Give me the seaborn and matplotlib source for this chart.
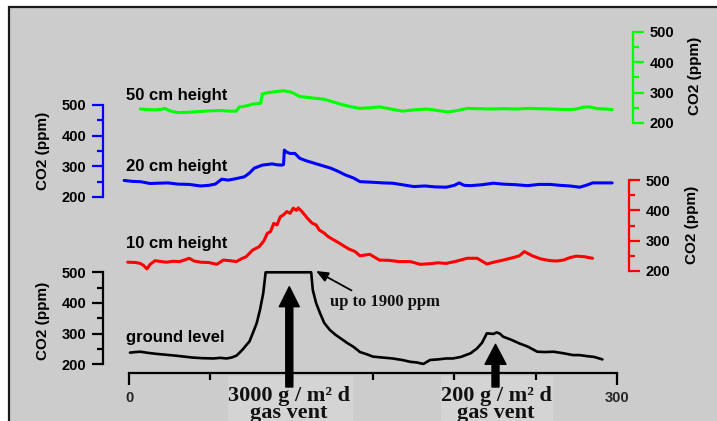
import matplotlib
matplotlib.use("Agg")
import matplotlib.pyplot as plt
from matplotlib.patches import Rectangle
from matplotlib.ticker import FixedLocator, NullFormatter
import pandas as pd
import seaborn as sns

# ---------------------------------------------------------------- data
# distance along the transect and CO2 concentration (ppm) at four heights
x_50cm = [7, 12, 16, 20, 22, 25, 30, 36, 44, 50, 56, 62, 66, 67.5, 72, 76, 81, 82,
          86, 90, 95, 100, 105, 110, 115, 120, 125, 130, 136, 142, 148, 154, 160,
          168, 175, 183, 190, 196, 202, 208, 215, 222, 230, 238, 245, 252, 259,
          265, 271, 275, 279, 283, 288, 293, 297]
co2_50cm = [246, 244, 243, 245, 248, 240, 234, 235, 238, 240, 241, 239, 239, 252,
            256, 262, 265, 296, 300, 303, 306, 301, 287, 284, 281, 278, 270, 262,
            254, 248, 250, 253, 247, 239, 243, 246, 241, 236, 241, 248, 247, 246,
            247, 246, 248, 247, 246, 245, 244, 246, 252, 253, 247, 246, 244]

x_20cm = [-3, 2, 7, 13, 18, 24, 30, 37, 44, 49, 53, 57, 61, 65, 71, 74, 77, 80, 82,
          85, 88, 91, 94, 95, 95.5, 97, 99, 102, 105, 109, 114, 119, 124, 128, 133,
          138, 142, 150, 156, 162, 168, 175, 182, 188, 195, 200, 203, 206, 210,
          217, 224, 230, 238, 245, 252, 259, 265, 271, 277, 281, 285, 291, 297]
co2_20cm = [254, 251, 250, 244, 245, 246, 242, 241, 236, 238, 242, 258, 255, 259,
            266, 278, 294, 300, 304, 306, 308, 305, 304, 306, 353, 346, 342, 342,
            326, 318, 310, 302, 294, 285, 272, 262, 250, 248, 246, 245, 240, 234,
            236, 233, 232, 238, 246, 238, 237, 240, 245, 242, 240, 237, 241, 241,
            238, 236, 232, 238, 246, 246, 246]

x_10cm = [-0.8, 4, 7, 9, 11, 13, 16, 20, 23, 27, 31, 34, 37, 40, 44, 49, 54, 58, 62,
          66, 69, 72, 76, 80, 83, 85, 87, 89, 91, 93, 95, 97, 99, 101, 103, 104,
          106, 108, 110, 112.5, 115, 117, 120, 122, 125, 128, 131, 135, 139, 142,
          148, 154, 160, 166, 173, 179, 185, 190, 195, 201, 208, 214, 220, 225,
          230, 236, 240, 243, 248, 253, 259, 263, 267, 271, 275, 280, 285]
co2_10cm = [229, 228, 225, 218, 207, 222, 234, 231, 229, 232, 231, 236, 242, 233,
            229, 228, 222, 236, 234, 231, 240, 247, 269, 280, 300, 324, 330, 357,
            352, 379, 385, 396, 390, 407, 400, 408, 398, 385, 372, 358, 352, 335,
            325, 315, 305, 296, 286, 273, 264, 250, 255, 236, 235, 231, 231, 222,
            224, 227, 225, 232, 242, 242, 223, 230, 236, 244, 250, 264, 250, 240,
            234, 233, 236, 244, 249, 247, 242]

x_ground = [0.6, 4, 7, 12, 17, 23, 29, 34, 39, 45, 52, 56, 60, 63, 66, 68, 70, 72,
            74, 76, 78.5, 80.5, 82.5, 84, 112, 113, 115, 117.5, 120, 123.5, 127,
            130, 134, 138, 142, 146, 150, 156, 162, 168, 173, 177, 181, 185, 190,
            195, 199, 204, 210, 214, 217, 220, 222, 224, 226, 228, 230, 235, 240,
            245, 251, 256, 261, 267, 273, 277, 281, 286, 291]
co2_ground = [238, 240, 241, 237, 234, 231, 228, 225, 222, 220, 219, 221, 219, 222,
              228, 238, 249, 262, 274, 300, 334, 377, 431, 500, 500, 442, 400, 366,
              335, 312, 296, 285, 270, 257, 240, 233, 225, 222, 219, 214, 208, 206,
              201, 214, 216, 219, 219, 224, 236, 252, 270, 301, 300, 299, 304, 300,
              290, 280, 268, 258, 241, 240, 241, 236, 230, 230, 227, 224, 216]

series_names = ["50 cm height", "20 cm height", "10 cm height", "ground level"]
y_ticks = [200, 300, 400, 500]
y_minor = [250, 350, 450]
x_ticks = [0, 300]
x_minor = [50, 100, 150, 200, 250]
y_label = "CO2 (ppm)"
vent_labels = ["3000 g / m² d", "200 g / m² d"]
vent_word = "gas vent"
note = "up to 1900 ppm"

# ---------------------------------------------------------------- style
sns.set_theme(style="ticks")
plt.rcParams["font.family"] = ["Liberation Sans", "DejaVu Sans"]
plt.rcParams["font.weight"] = "bold"
SERIF = ["Liberation Serif", "DejaVu Serif"]

W, H = 717, 421
PT = 0.72  # points per pixel at 100 dpi
fig = plt.figure(figsize=(W / 100, H / 100), dpi=100)
fig.patch.set_facecolor("white")

# grey panel with a dark frame
fig.add_artist(Rectangle((9 / W, -0.05), 1.1, 1 - 7 / H + 0.05,
                         transform=fig.transFigure, facecolor="#cccccc",
                         edgecolor="#1a1a1a", linewidth=1.6, zorder=-1))

X0, X1 = 129, 617  # pixel columns of x = 0 and x = 300
TICK_FS = 10.5


def band(y200, y500):
    """Axes whose 200..500 ppm range spans the given pixel rows."""
    ax = fig.add_axes([X0 / W, 1 - y200 / H, (X1 - X0) / W, (y200 - y500) / H])
    ax.set_facecolor("none")
    ax.set_xlim(0, 300)
    ax.set_ylim(200, 500)
    for s in ax.spines.values():
        s.set_visible(False)
    ax.set_xticks([])
    return ax


def draw(ax, xs, ys, color, lw):
    df = pd.DataFrame({"x": xs, "co2": ys})
    sns.lineplot(data=df, x="x", y="co2", ax=ax, color=color, linewidth=lw,
                 errorbar=None, estimator=None)
    for ln in ax.lines:
        ln.set_clip_on(False)
    ax.set_xlabel("")


def yaxis(ax, color, side, offset_px, label_xy):
    sp = ax.spines[side]
    sp.set_visible(True)
    sp.set_color(color)
    sp.set_linewidth(1.6)
    sp.set_position(("outward", offset_px * PT))
    if side == "right":
        ax.yaxis.tick_right()
        ax.yaxis.set_label_position("right")
    ax.yaxis.set_major_locator(FixedLocator(y_ticks))
    ax.yaxis.set_minor_locator(FixedLocator(y_minor))
    ax.yaxis.set_minor_formatter(NullFormatter())
    ax.set_yticklabels([str(v) for v in y_ticks], fontweight="bold",
                       fontsize=TICK_FS)
    ax.tick_params(axis="y", which="major", length=11.5 * PT, width=1.6,
                   color=color, labelcolor="black", pad=5 * PT)
    ax.tick_params(axis="y", which="minor", length=6 * PT, width=1.6, color=color)
    ax.set_ylabel(y_label, fontsize=11, fontweight="bold", color="black")
    ax.yaxis.set_label_coords(label_xy[0] / W, 1 - label_xy[1] / H,
                              transform=fig.transFigure)
    ax.yaxis.label.set_verticalalignment("center")


ax_g = band(364.3, 272.3)
ax_r = band(271.0, 180.0)
ax_b = band(197.0, 105.0)
ax_n = band(123.0, 31.7)

draw(ax_n, x_50cm, co2_50cm, "#00ff00", 2.2)
draw(ax_b, x_20cm, co2_20cm, "#0000ff", 2.2)
draw(ax_r, x_10cm, co2_10cm, "#ff0000", 2.2)
draw(ax_g, x_ground, co2_ground, "black", 1.9)

yaxis(ax_n, "#00ff00", "right", 16, (695, 76))
yaxis(ax_r, "#ff0000", "right", 12, (692, 225))
yaxis(ax_b, "#0000ff", "left", 26, (43, 151))
yaxis(ax_g, "black", "left", 26, (43, 321))

# distance axis below the ground-level trace
bx = ax_g.spines["bottom"]
bx.set_visible(True)
bx.set_color("black")
bx.set_linewidth(1.6)
bx.set_position(("outward", 9 * PT))
ax_g.xaxis.set_major_locator(FixedLocator(x_ticks))
ax_g.xaxis.set_minor_locator(FixedLocator(x_minor))
ax_g.xaxis.set_minor_formatter(NullFormatter())
ax_g.set_xticklabels([str(v) for v in x_ticks], fontweight="bold",
                     fontsize=TICK_FS)
ax_g.tick_params(axis="x", which="major", length=12 * PT, width=1.6,
                 color="black", pad=6 * PT)
ax_g.tick_params(axis="x", which="minor", length=7 * PT, width=1.6, color="black")
ax_g.set_xlabel("")

# series names
for name, base in zip(series_names, [100, 170.7, 248.3, 342.3]):
    fig.text(126 / W, 1 - base / H, name, ha="left", va="baseline",
             fontsize=12, fontweight="bold", color="black")

# light boxes behind the vent captions
for (bx0, bx1) in [(228, 353), (441, 553)]:
    ax_g.add_patch(Rectangle((bx0 / W, 0), (bx1 - bx0) / W, (H - 376) / H,
                             transform=fig.transFigure, facecolor="#d4d4d4",
                             edgecolor="none", clip_on=False, zorder=0.5))

# vent arrows
for (ax_px, tip, hw) in [(289.3, 286.7, 20), (495.5, 344.3, 21)]:
    ax_g.annotate("", xy=(ax_px, H - tip), xytext=(ax_px, H - 387),
                  xycoords="figure pixels", textcoords="figure pixels",
                  annotation_clip=False,
                  arrowprops=dict(arrowstyle=f"simple,head_length={20 * PT},"
                                             f"head_width={hw * PT},tail_width={7 * PT}",
                                  mutation_scale=1, color="black",
                                  shrinkA=0, shrinkB=0))

# vent captions (two tightly spaced lines; baseline of the last line given)
for label, cx in [(vent_labels[0], 289), (vent_labels[1], 496)]:
    ax_g.text(cx / W, 1 - 418 / H, f"{label}\n{vent_word}",
              transform=fig.transFigure, ha="center", va="baseline",
              multialignment="center", linespacing=0.78, fontsize=16,
              fontweight="bold", family=SERIF, color="#111111",
              clip_on=False, zorder=4)

# note on the clipped peak
ax_g.annotate(note, xy=(316, H - 271), xytext=(330, H - 301.7),
              xycoords="figure pixels", textcoords="figure pixels",
              ha="left", va="center", fontsize=12, fontweight="bold",
              family=SERIF, color="#111111", annotation_clip=False,
              arrowprops=dict(arrowstyle="-|>,head_length=0.6,head_width=0.25",
                              color="black", lw=1.3, shrinkA=0, shrinkB=0,
                              relpos=(0.25, 1.0)))

fig.savefig("out.png", dpi=100)
